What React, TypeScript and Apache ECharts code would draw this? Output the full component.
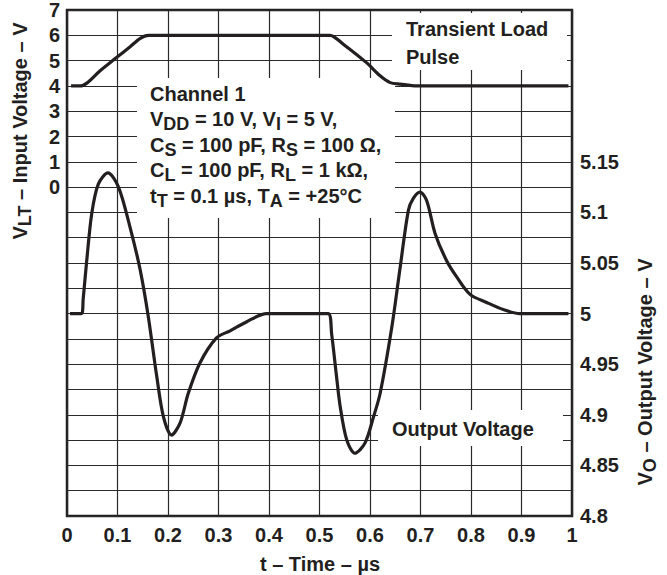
import React, { useEffect, useRef } from 'react';
import * as echarts from 'echarts';

// Transient load pulse (left axis, V)
const inputTime = [0.008, 0.026, 0.04, 0.065, 0.098, 0.125, 0.145, 0.161, 0.197, 0.517, 0.521, 0.547, 0.593, 0.62, 0.64, 0.66, 0.693, 0.993];
const inputVolt = [4.0, 4.0, 4.12, 4.59, 5.12, 5.55, 5.88, 6.0, 6.0, 6.0, 6.0, 5.65, 4.92, 4.4, 4.13, 4.07, 4.0, 4.0];

// Output voltage (right axis, V)
const outputTime = [0.006, 0.029, 0.032, 0.039, 0.049, 0.062, 0.081, 0.102, 0.125, 0.145, 0.161, 0.178, 0.191, 0.207, 0.224, 0.24, 0.263, 0.296, 0.323, 0.356, 0.395, 0.517, 0.524, 0.533, 0.541, 0.554, 0.57, 0.59, 0.607, 0.62, 0.643, 0.659, 0.676, 0.686, 0.699, 0.712, 0.729, 0.752, 0.772, 0.798, 0.831, 0.864, 0.897, 0.993];
const outputVolt = [5.0, 5.0, 5.014, 5.052, 5.099, 5.128, 5.139, 5.125, 5.085, 5.043, 4.997, 4.937, 4.898, 4.88, 4.892, 4.921, 4.951, 4.976, 4.983, 4.992, 5.0, 5.0, 4.98, 4.941, 4.908, 4.875, 4.862, 4.872, 4.898, 4.921, 4.986, 5.043, 5.102, 5.114, 5.12, 5.112, 5.079, 5.052, 5.036, 5.019, 5.011, 5.004, 5.0, 5.0];

const leftLabelMin = 0; // left axis labels shown from 0 to 7
const rightLabelMax = 5.15; // right axis labels shown from 4.8 to 5.15

const FONT = '"Liberation Sans", Arial, Helvetica, sans-serif';
const INK = '#231f20';

const richStyles = {
  m: { fontSize: 20, fontWeight: 'bold', fontFamily: FONT, fill: INK, color: INK, lineHeight: 20, verticalAlign: 'top' },
  s: { fontSize: 18, fontWeight: 'bold', fontFamily: FONT, fill: INK, color: INK, lineHeight: 24, verticalAlign: 'bottom' },
};

function rtext(x: number, y: number, text: string, extra: any = {}) {
  return {
    type: 'text',
    x,
    y,
    z: 20,
    ...extra,
    style: {
      text,
      rich: richStyles,
      font: `bold 20px ${FONT}`,
      fill: INK,
      align: extra.align || 'left',
      verticalAlign: 'top',
    },
  };
}

export default function App() {
  const ref = useRef<HTMLDivElement>(null);
  useEffect(() => {
    const chart = echarts.init(ref.current!, null, { renderer: 'svg' });
    const labelStyle = { fontSize: 20, fontWeight: 'bold' as const, fontFamily: FONT, color: INK };
    chart.setOption({
      animation: false,
      grid: { left: 67, top: 9, width: 505, height: 507, show: true, borderColor: INK, borderWidth: 2.5, backgroundColor: 'transparent' },
      xAxis: {
        type: 'value', min: 0, max: 1, interval: 0.1,
        axisLine: { show: false }, axisTick: { show: false },
        splitLine: { show: true, lineStyle: { color: '#2a2a2a', width: 1.2 } },
        axisLabel: { ...labelStyle, margin: 9, formatter: (v: number) => String(+v.toFixed(1)) },
      },
      yAxis: [
        {
          type: 'value', min: -13, max: 7, interval: 1, position: 'left',
          axisLine: { show: false }, axisTick: { show: false },
          splitLine: { show: true, lineStyle: { color: '#2a2a2a', width: 1.2 } },
          axisLabel: { ...labelStyle, margin: 7, padding: [8, 0, 0, 0], formatter: (v: number) => (v >= leftLabelMin ? String(v) : '') },
        },
        {
          type: 'value', min: 4.8, max: 5.3, interval: 0.05, position: 'right',
          axisLine: { show: false }, axisTick: { show: false }, splitLine: { show: false },
          axisLabel: { ...labelStyle, margin: 8, padding: [4, 0, 0, 0], formatter: (v: number) => (v <= rightLabelMax + 1e-6 ? String(+v.toFixed(2)) : '') },
        },
      ],
      graphic: [
        { type: 'rect', z: 10, shape: { x: 392, y: 13, width: 175, height: 57 }, style: { fill: '#fff' } },
        { type: 'rect', z: 10, shape: { x: 137, y: 78, width: 258, height: 140 }, style: { fill: '#fff' } },
        { type: 'rect', z: 10, shape: { x: 378, y: 410, width: 185, height: 36 }, style: { fill: '#fff' } },
        rtext(406, 19, '{m|Transient Load}'),
        rtext(406, 47, '{m|Pulse}'),
        rtext(150, 84, '{m|Channel 1}'),
        rtext(150, 109, '{m|V}{s|DD}{m| = 10 V, V}{s|I}{m| = 5 V,}'),
        rtext(150, 135, '{m|C}{s|S}{m| = 100 pF, R}{s|S}{m| = 100 Ω,}'),
        rtext(150, 160, '{m|C}{s|L}{m| = 100 pF, R}{s|L}{m| = 1 kΩ,}'),
        rtext(150, 186, '{m|t}{s|T}{m| = 0.1 µs, T}{s|A}{m| = +25°C}'),
        rtext(392, 419, '{m|Output Voltage}'),
        rtext(320, 554, '{m|t – Time – µs}', { align: 'center' }),
        { ...rtext(10, 131, '{m|V}{s|LT}{m| – Input Voltage – V}', { align: 'center' }), rotation: Math.PI / 2, originX: 0, originY: 0 },
        { ...rtext(635, 372, '{m|V}{s|O}{m| – Output Voltage – V}', { align: 'center' }), rotation: Math.PI / 2, originX: 0, originY: 0 },
      ],
      series: [
        {
          type: 'line', yAxisIndex: 0, z: 30, symbol: 'none', smooth: 0.3,
          lineStyle: { color: INK, width: 3.2 },
          data: inputTime.map((t, i) => [t, inputVolt[i]]),
        },
        {
          type: 'line', yAxisIndex: 1, z: 30, symbol: 'none', smooth: 0.3,
          lineStyle: { color: INK, width: 3.2 },
          data: outputTime.map((t, i) => [t, outputVolt[i]]),
        },
      ],
    });
    return () => chart.dispose();
  }, []);
  return <div ref={ref} style={{ position: 'absolute', left: 0, top: 0, width: 667, height: 575 }} />;
}
